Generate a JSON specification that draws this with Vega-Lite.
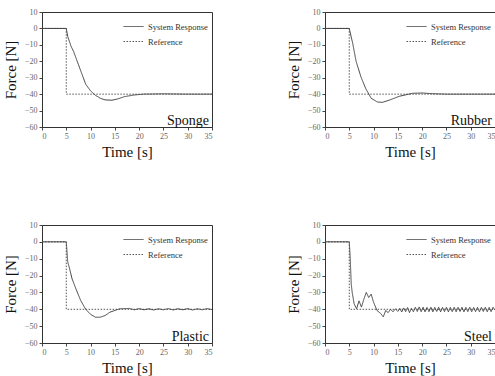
{
  "$schema": "https://vega.github.io/schema/vega-lite/v6.json",
  "background": "white",
  "padding": {"left": 2, "top": 7, "right": 0, "bottom": 0},
  "config": {
    "view": {"stroke": "#333", "strokeWidth": 1},
    "font": "Liberation Serif",
    "axis": {"grid": false, "labelFont": "Liberation Serif", "labelFontSize": 8, "labelColor": "#666", "tickColor": "#444", "tickSize": 3, "domainColor": "#333", "titleFont": "Liberation Serif", "titleFontSize": 15, "titleFontWeight": "normal", "titleColor": "#111", "labelOverlap": false},
    "axisY": {"titlePadding": 6},
    "axisX": {"titlePadding": 4},
    "legend": {"labelFont": "Liberation Serif", "labelFontSize": 8.5, "labelColor": "#333", "orient": "top-right", "offset": 4, "padding": 0, "rowPadding": -8, "symbolType": "stroke", "symbolSize": 400, "symbolStrokeWidth": 1, "title": null},
    "concat": {"spacing": 72}
  },
  "datasets": {
    "label": [{"k": 1}],
    "sponge": [
      {"series": "Reference", "t": 0, "f": 0}, {"series": "Reference", "t": 4.99, "f": 0}, {"series": "Reference", "t": 5, "f": -40}, {"series": "Reference", "t": 35, "f": -40},
      {"series": "System Response", "t": 0, "f": 0}, {"series": "System Response", "t": 5, "f": 0}, {"series": "System Response", "t": 5.3, "f": -5},
      {"series": "System Response", "t": 6, "f": -11}, {"series": "System Response", "t": 6.5, "f": -14}, {"series": "System Response", "t": 7.5, "f": -22},
      {"series": "System Response", "t": 8.5, "f": -30}, {"series": "System Response", "t": 9, "f": -34}, {"series": "System Response", "t": 10, "f": -38},
      {"series": "System Response", "t": 11, "f": -40.7}, {"series": "System Response", "t": 12, "f": -42.5}, {"series": "System Response", "t": 13, "f": -43.5},
      {"series": "System Response", "t": 14.4, "f": -43.7}, {"series": "System Response", "t": 15.5, "f": -43}, {"series": "System Response", "t": 17, "f": -41.5},
      {"series": "System Response", "t": 19, "f": -40.5}, {"series": "System Response", "t": 21, "f": -40}, {"series": "System Response", "t": 25, "f": -39.8},
      {"series": "System Response", "t": 30, "f": -40}, {"series": "System Response", "t": 35, "f": -40}
    ],
    "rubber": [
      {"series": "Reference", "t": 0, "f": 0}, {"series": "Reference", "t": 4.99, "f": 0}, {"series": "Reference", "t": 5, "f": -40}, {"series": "Reference", "t": 35, "f": -40},
      {"series": "System Response", "t": 0, "f": 0}, {"series": "System Response", "t": 5, "f": 0}, {"series": "System Response", "t": 5.3, "f": -4},
      {"series": "System Response", "t": 5.7, "f": -9}, {"series": "System Response", "t": 6.4, "f": -20}, {"series": "System Response", "t": 7.4, "f": -29.5},
      {"series": "System Response", "t": 8.4, "f": -36.7}, {"series": "System Response", "t": 9.5, "f": -42.5}, {"series": "System Response", "t": 10.8, "f": -44.8},
      {"series": "System Response", "t": 11.8, "f": -45}, {"series": "System Response", "t": 13.2, "f": -43.7}, {"series": "System Response", "t": 15.3, "f": -41.3},
      {"series": "System Response", "t": 18, "f": -39.5}, {"series": "System Response", "t": 20, "f": -39.3}, {"series": "System Response", "t": 22, "f": -39.7},
      {"series": "System Response", "t": 25, "f": -40}, {"series": "System Response", "t": 30, "f": -40}, {"series": "System Response", "t": 35, "f": -40}
    ],
    "plastic": [
      {"series": "Reference", "t": 0, "f": 0}, {"series": "Reference", "t": 4.99, "f": 0}, {"series": "Reference", "t": 5, "f": -40}, {"series": "Reference", "t": 35, "f": -40},
      {"series": "System Response", "t": 0, "f": 0}, {"series": "System Response", "t": 5, "f": 0}, {"series": "System Response", "t": 5.3, "f": -12},
      {"series": "System Response", "t": 5.6, "f": -15}, {"series": "System Response", "t": 6.2, "f": -22}, {"series": "System Response", "t": 7, "f": -28},
      {"series": "System Response", "t": 8, "f": -35}, {"series": "System Response", "t": 9, "f": -40}, {"series": "System Response", "t": 10, "f": -43},
      {"series": "System Response", "t": 11, "f": -44.7}, {"series": "System Response", "t": 12, "f": -44.7}, {"series": "System Response", "t": 13, "f": -43.7},
      {"series": "System Response", "t": 14, "f": -41.7}, {"series": "System Response", "t": 16, "f": -39.7}, {"series": "System Response", "t": 18, "f": -39.5},
      {"series": "System Response", "t": 19, "f": -40.3}, {"series": "System Response", "t": 20, "f": -39.6}, {"series": "System Response", "t": 21, "f": -40.3},
      {"series": "System Response", "t": 22, "f": -39.7}, {"series": "System Response", "t": 23, "f": -40.4}, {"series": "System Response", "t": 24, "f": -39.7},
      {"series": "System Response", "t": 25, "f": -40.3}, {"series": "System Response", "t": 26, "f": -39.6}, {"series": "System Response", "t": 27, "f": -40.4},
      {"series": "System Response", "t": 28, "f": -39.7}, {"series": "System Response", "t": 29, "f": -40.3}, {"series": "System Response", "t": 30, "f": -39.6},
      {"series": "System Response", "t": 31, "f": -40.4}, {"series": "System Response", "t": 32, "f": -39.7}, {"series": "System Response", "t": 33, "f": -40.3},
      {"series": "System Response", "t": 34, "f": -39.6}, {"series": "System Response", "t": 35, "f": -40.2}
    ],
    "steel": [
      {"series": "Reference", "t": 0, "f": 0}, {"series": "Reference", "t": 4.99, "f": 0}, {"series": "Reference", "t": 5, "f": -40}, {"series": "Reference", "t": 35, "f": -40},
      {"series": "System Response", "t": 0, "f": 0}, {"series": "System Response", "t": 5, "f": 0}, {"series": "System Response", "t": 5.2, "f": -10},
      {"series": "System Response", "t": 5.4, "f": -25}, {"series": "System Response", "t": 5.6, "f": -30}, {"series": "System Response", "t": 6, "f": -36.8},
      {"series": "System Response", "t": 6.5, "f": -39.7}, {"series": "System Response", "t": 7, "f": -35}, {"series": "System Response", "t": 7.5, "f": -38.7},
      {"series": "System Response", "t": 8, "f": -34}, {"series": "System Response", "t": 8.5, "f": -30}, {"series": "System Response", "t": 9, "f": -33},
      {"series": "System Response", "t": 9.5, "f": -31}, {"series": "System Response", "t": 10, "f": -35.8}, {"series": "System Response", "t": 10.7, "f": -40.7},
      {"series": "System Response", "t": 11.5, "f": -42.6}, {"series": "System Response", "t": 12, "f": -44.5}, {"series": "System Response", "t": 12.5, "f": -40.7},
      {"series": "System Response", "t": 13, "f": -42}, {"series": "System Response", "t": 13.5, "f": -40}, {"series": "System Response", "t": 14, "f": -41.5},
      {"series": "System Response", "t": 14.5, "f": -39.8}, {"series": "System Response", "t": 15, "f": -41.2}, {"series": "System Response", "t": 15.4, "f": -39.5},
      {"series": "System Response", "t": 15.8, "f": -41.6}, {"series": "System Response", "t": 16.2, "f": -39.2}, {"series": "System Response", "t": 16.6, "f": -41.4},
      {"series": "System Response", "t": 17, "f": -39}, {"series": "System Response", "t": 17.4, "f": -42}, {"series": "System Response", "t": 17.8, "f": -39.4},
      {"series": "System Response", "t": 18.2, "f": -41.5}, {"series": "System Response", "t": 18.6, "f": -38.8}, {"series": "System Response", "t": 19, "f": -41.3},
      {"series": "System Response", "t": 19.4, "f": -38.6}, {"series": "System Response", "t": 19.8, "f": -41.4}, {"series": "System Response", "t": 20.2, "f": -38.8},
      {"series": "System Response", "t": 20.6, "f": -41.5}, {"series": "System Response", "t": 21, "f": -38.9}, {"series": "System Response", "t": 21.4, "f": -41.4},
      {"series": "System Response", "t": 21.8, "f": -38.8}, {"series": "System Response", "t": 22.2, "f": -41.5}, {"series": "System Response", "t": 22.6, "f": -38.9},
      {"series": "System Response", "t": 23, "f": -41.3}, {"series": "System Response", "t": 23.4, "f": -38.8}, {"series": "System Response", "t": 23.8, "f": -41.5},
      {"series": "System Response", "t": 24.2, "f": -38.9}, {"series": "System Response", "t": 24.6, "f": -41.4}, {"series": "System Response", "t": 25, "f": -38.8},
      {"series": "System Response", "t": 25.4, "f": -41.5}, {"series": "System Response", "t": 25.8, "f": -38.9}, {"series": "System Response", "t": 26.2, "f": -41.4},
      {"series": "System Response", "t": 26.6, "f": -38.8}, {"series": "System Response", "t": 27, "f": -41.5}, {"series": "System Response", "t": 27.4, "f": -38.9},
      {"series": "System Response", "t": 27.8, "f": -41.3}, {"series": "System Response", "t": 28.2, "f": -38.8}, {"series": "System Response", "t": 28.6, "f": -41.5},
      {"series": "System Response", "t": 29, "f": -38.9}, {"series": "System Response", "t": 29.4, "f": -41.4}, {"series": "System Response", "t": 29.8, "f": -38.8},
      {"series": "System Response", "t": 30.2, "f": -41.5}, {"series": "System Response", "t": 30.6, "f": -38.9}, {"series": "System Response", "t": 31, "f": -41.4},
      {"series": "System Response", "t": 31.4, "f": -38.8}, {"series": "System Response", "t": 31.8, "f": -41.5}, {"series": "System Response", "t": 32.2, "f": -38.9},
      {"series": "System Response", "t": 32.6, "f": -41.3}, {"series": "System Response", "t": 33, "f": -38.8}, {"series": "System Response", "t": 33.4, "f": -41.5},
      {"series": "System Response", "t": 33.8, "f": -38.9}, {"series": "System Response", "t": 34.2, "f": -41.4}, {"series": "System Response", "t": 34.6, "f": -38.8},
      {"series": "System Response", "t": 35, "f": -40.5}
    ]
  },
  "vconcat": [
    {
      "hconcat": [
        {
          "width": 170, "height": 115,
          "encoding": {
            "x": {"type": "quantitative", "title": "Time [s]", "scale": {"domain": [0, 35], "nice": false}, "axis": {"values": [0, 5, 10, 15, 20, 25, 30, 35]}},
            "y": {"type": "quantitative", "title": "Force [N]", "scale": {"domain": [-60, 10], "nice": false}, "axis": {"values": [10, 0, -10, -20, -30, -40, -50, -60]}}
          },
          "layer": [
            {
              "data": {"name": "sponge"},
              "mark": {"type": "line", "strokeWidth": 1, "clip": true},
              "encoding": {
                "x": {"field": "t"},
                "y": {"field": "f"},
                "color": {"field": "series", "type": "nominal", "scale": {"domain": ["System Response", "Reference"], "range": ["#444", "#555"]}},
                "strokeDash": {"field": "series", "type": "nominal", "scale": {"domain": ["System Response", "Reference"], "range": [[1, 0], [1.5, 1.5]]}}
              }
            },
            {
              "data": {"name": "label"},
              "mark": {"type": "text", "text": "Sponge", "align": "right", "baseline": "bottom", "fontSize": 14, "font": "Liberation Serif", "color": "#111", "dx": -3, "dy": 1},
              "encoding": {"x": {"datum": 35}, "y": {"datum": -60}}
            }
          ]
        },
        {
          "width": 170, "height": 115,
          "encoding": {
            "x": {"type": "quantitative", "title": "Time [s]", "scale": {"domain": [0, 35], "nice": false}, "axis": {"values": [0, 5, 10, 15, 20, 25, 30, 35]}},
            "y": {"type": "quantitative", "title": "Force [N]", "scale": {"domain": [-60, 10], "nice": false}, "axis": {"values": [10, 0, -10, -20, -30, -40, -50, -60]}}
          },
          "layer": [
            {
              "data": {"name": "rubber"},
              "mark": {"type": "line", "strokeWidth": 1, "clip": true},
              "encoding": {
                "x": {"field": "t"},
                "y": {"field": "f"},
                "color": {"field": "series", "type": "nominal", "scale": {"domain": ["System Response", "Reference"], "range": ["#444", "#555"]}},
                "strokeDash": {"field": "series", "type": "nominal", "scale": {"domain": ["System Response", "Reference"], "range": [[1, 0], [1.5, 1.5]]}}
              }
            },
            {
              "data": {"name": "label"},
              "mark": {"type": "text", "text": "Rubber", "align": "right", "baseline": "bottom", "fontSize": 14, "font": "Liberation Serif", "color": "#111", "dx": -3, "dy": 1},
              "encoding": {"x": {"datum": 35}, "y": {"datum": -60}}
            }
          ]
        }
      ],
      "resolve": {"legend": {"color": "independent", "strokeDash": "independent"}, "scale": {"color": "independent", "strokeDash": "independent"}}
    },
    {
      "hconcat": [
        {
          "width": 170, "height": 118,
          "encoding": {
            "x": {"type": "quantitative", "title": "Time [s]", "scale": {"domain": [0, 35], "nice": false}, "axis": {"values": [0, 5, 10, 15, 20, 25, 30, 35]}},
            "y": {"type": "quantitative", "title": "Force [N]", "scale": {"domain": [-60, 10], "nice": false}, "axis": {"values": [10, 0, -10, -20, -30, -40, -50, -60]}}
          },
          "layer": [
            {
              "data": {"name": "plastic"},
              "mark": {"type": "line", "strokeWidth": 1, "clip": true},
              "encoding": {
                "x": {"field": "t"},
                "y": {"field": "f"},
                "color": {"field": "series", "type": "nominal", "scale": {"domain": ["System Response", "Reference"], "range": ["#444", "#555"]}},
                "strokeDash": {"field": "series", "type": "nominal", "scale": {"domain": ["System Response", "Reference"], "range": [[1, 0], [1.5, 1.5]]}}
              }
            },
            {
              "data": {"name": "label"},
              "mark": {"type": "text", "text": "Plastic", "align": "right", "baseline": "bottom", "fontSize": 14, "font": "Liberation Serif", "color": "#111", "dx": -3, "dy": 1},
              "encoding": {"x": {"datum": 35}, "y": {"datum": -60}}
            }
          ]
        },
        {
          "width": 170, "height": 118,
          "encoding": {
            "x": {"type": "quantitative", "title": "Time [s]", "scale": {"domain": [0, 35], "nice": false}, "axis": {"values": [0, 5, 10, 15, 20, 25, 30, 35]}},
            "y": {"type": "quantitative", "title": "Force [N]", "scale": {"domain": [-60, 10], "nice": false}, "axis": {"values": [10, 0, -10, -20, -30, -40, -50, -60]}}
          },
          "layer": [
            {
              "data": {"name": "steel"},
              "mark": {"type": "line", "strokeWidth": 1, "clip": true},
              "encoding": {
                "x": {"field": "t"},
                "y": {"field": "f"},
                "color": {"field": "series", "type": "nominal", "scale": {"domain": ["System Response", "Reference"], "range": ["#444", "#555"]}},
                "strokeDash": {"field": "series", "type": "nominal", "scale": {"domain": ["System Response", "Reference"], "range": [[1, 0], [1.5, 1.5]]}}
              }
            },
            {
              "data": {"name": "label"},
              "mark": {"type": "text", "text": "Steel", "align": "right", "baseline": "bottom", "fontSize": 14, "font": "Liberation Serif", "color": "#111", "dx": -3, "dy": 1},
              "encoding": {"x": {"datum": 35}, "y": {"datum": -60}}
            }
          ]
        }
      ],
      "resolve": {"legend": {"color": "independent", "strokeDash": "independent"}, "scale": {"color": "independent", "strokeDash": "independent"}}
    }
  ],
  "spacing": 60,
  "resolve": {"legend": {"color": "independent", "strokeDash": "independent"}, "scale": {"color": "independent", "strokeDash": "independent"}}
}
